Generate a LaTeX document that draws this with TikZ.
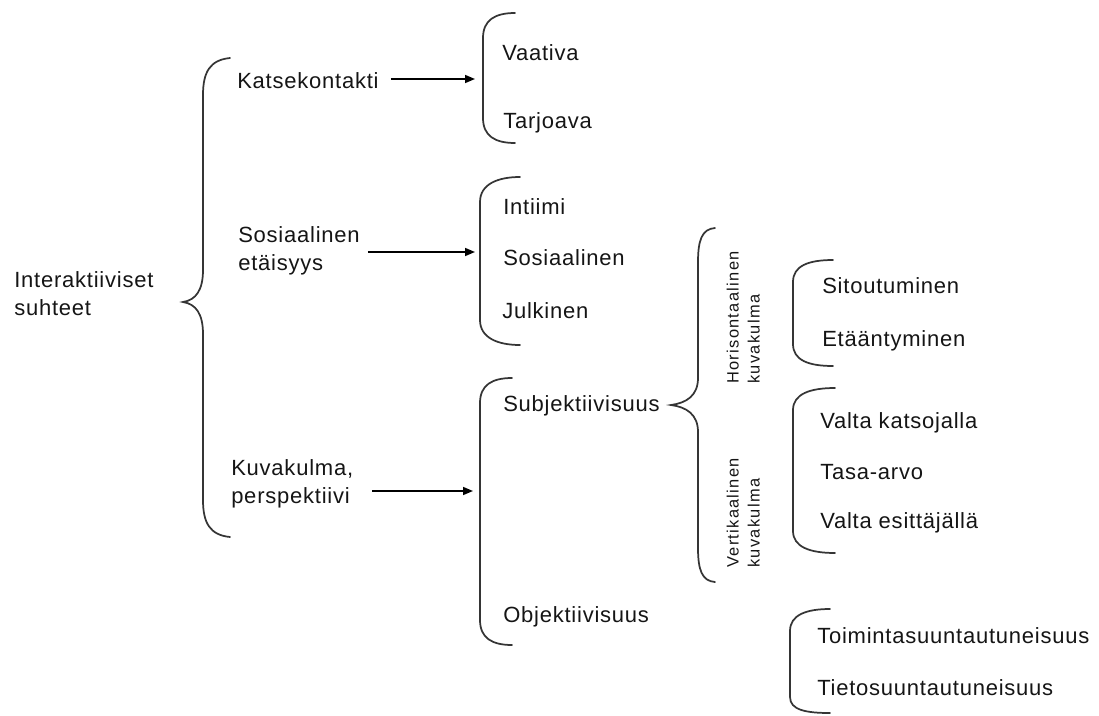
\documentclass[tikz,border=0pt]{standalone}
\usepackage{fontspec}
\setmainfont{Liberation Sans}[LetterSpace=3.5]
\newfontfamily\rotfont{Liberation Sans}[LetterSpace=8]
\usetikzlibrary{arrows.meta,calc}
\definecolor{ink}{HTML}{151515}
\definecolor{bracecol}{HTML}{353535}
\begin{document}
\begin{tikzpicture}[x=0.75pt,y=-0.75pt,
  txt/.style={inner sep=0pt,anchor=base west,text=ink,font=\fontsize{16.5pt}{21pt}\selectfont},
  mtxt/.style={inner sep=0pt,anchor=north west,align=left,text=ink,font=\fontsize{16.5pt}{21pt}\selectfont},
  rottxt/.style={inner sep=0pt,rotate=90,anchor=south west,align=left,text=ink,font=\rotfont\fontsize{12.3pt}{15.75pt}\selectfont},
  bracestroke/.style={draw=bracecol,line width=1.3pt,line cap=round},
  arr/.style={draw=black,line width=1.15pt,-{Triangle[length=7.5pt,width=6pt]}}]
\useasboundingbox (0,0) rectangle (1099,715);

% left label
\node[mtxt] (inter) at (14,271) {Interaktiiviset\\suhteet};

% big curly brace
\draw[bracestroke] (230,58) .. controls (210,60) and (203,72) .. (203,95) -- (203,270)
  .. controls (203,290) and (196,300) .. (183,302)
  .. controls (196,304) and (203,314) .. (203,334) -- (203,500)
  .. controls (203,523) and (210,535) .. (230,537);

% second level labels
\node[txt] (kats) at (237,88) {Katsekontakti};
\node[mtxt] (sos) at (238,226) {Sosiaalinen\\etäisyys};
\node[mtxt] (kuva) at (231,459) {Kuvakulma,\\perspektiivi};

% bracket 2
\draw[bracestroke] (515,13) .. controls (495,13) and (483,20) .. (483,38) -- (483,118)
  .. controls (483,136) and (495,143) .. (515,143);
\coordinate (b2) at (475,79);
\node[txt] (vaat) at (502,60) {Vaativa};
\node[txt] (tarj) at (503,128) {Tarjoava};

% bracket 3
\draw[bracestroke] (520,177) .. controls (498,177) and (480,184) .. (480,202) -- (480,320)
  .. controls (480,338) and (498,345) .. (520,345);
\coordinate (b3) at (475,252);
\node[txt] (inti) at (503,214) {Intiimi};
\node[txt] (sosi) at (503,265) {Sosiaalinen};
\node[txt] (julk) at (502,318) {Julkinen};

% bracket 4
\draw[bracestroke] (512,378) .. controls (492,378) and (480,385) .. (480,403) -- (480,620)
  .. controls (480,638) and (492,645) .. (512,645);
\coordinate (b4) at (473,491);
\node[txt] (subj) at (503,411) {Subjektiivisuus};
\node[txt] (obj) at (503,622) {Objektiivisuus};

% arrows
\draw[arr] ($(kats.east |- b2)+(12,0)$) -- (b2);
\draw[arr] ($(sos.east |- b3)+(8,0)$) -- (b3);
\draw[arr] ($(kuva.east |- b4)+(19,0)$) -- (b4);

% curly brace 5
\draw[bracestroke] (715,228) .. controls (702,229) and (698,240) .. (698,262) -- (698,378)
  .. controls (698,396) and (686,403) .. (671,405)
  .. controls (686,407) and (698,414) .. (698,432) -- (698,548)
  .. controls (698,570) and (702,581) .. (715,582);

% rotated labels
\node[rottxt] (hor) at (760,384) {Horisontaalinen\\kuvakulma};
\node[rottxt] (ver) at (760,568) {Vertikaalinen\\kuvakulma};

% bracket 6
\draw[bracestroke] (833,260) .. controls (808,260) and (793,266) .. (793,282) -- (793,344)
  .. controls (793,360) and (808,366) .. (833,366);
\node[txt] (sito) at (822,293) {Sitoutuminen};
\node[txt] (etaa) at (822,346) {Etääntyminen};

% bracket 7
\draw[bracestroke] (835,388) .. controls (810,388) and (793,394) .. (793,410) -- (793,531)
  .. controls (793,547) and (810,553) .. (835,553);
\node[txt] (valk) at (820,428) {Valta katsojalla};
\node[txt] (tasa) at (820,479) {Tasa-arvo};
\node[txt] (vale) at (820,528) {Valta esittäjällä};

% bracket 8
\draw[bracestroke] (830,609) .. controls (806,609) and (790,615) .. (790,631) -- (790,697)
  .. controls (790,710) and (806,713) .. (830,713);
\node[txt] (toim) at (817,643) {Toimintasuuntautuneisuus};
\node[txt] (tiet) at (817,695) {Tietosuuntautuneisuus};
\end{tikzpicture}
\end{document}
